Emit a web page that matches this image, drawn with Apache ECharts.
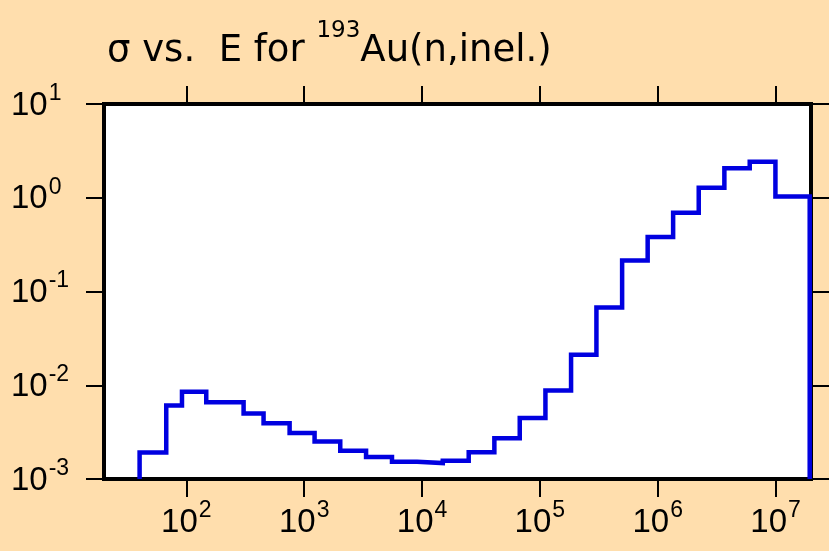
<!DOCTYPE html>
<html>
<head>
<meta charset="utf-8">
<script src="https://cdn.jsdelivr.net/npm/echarts@6/dist/echarts.min.js"></script>
<style>
html,body{margin:0;padding:0;background:#FFDEAD;}
#chart{width:829px;height:551px;}
</style>
</head>
<body>
<div id="chart"></div>
<script>
// Bin edges (eV) and cross sections (b)
const binEdges = [40.1, 67.5, 91.8, 147.5, 306, 452, 752, 1225, 2023, 3350, 5560, 9080, 15000, 24900, 41100, 67500, 111500, 184000, 302000, 499000, 822000, 1352000, 2230000, 3680000, 6040000, 9980000, 19500000];
const sigmaValues = [0.00192, 0.00607, 0.00851, 0.00660, 0.00499, 0.00394, 0.00310, 0.00251, 0.00200, 0.00172, 0.00153, 0.00148, 0.00157, 0.00193, 0.00272, 0.00446, 0.00877, 0.0211, 0.0675, 0.214, 0.381, 0.692, 1.28, 2.06, 2.42, 1.03];
const xTickValues = [1e2, 1e3, 1e4, 1e5, 1e6, 1e7];
const yTickValues = [1e-3, 1e-2, 1e-1, 1, 10];
const titleParts = ['σ vs.  E for ', '193', 'Au(n,inel.)'];

const yMin = 1e-3, yMax = 10, xMin = 20, xMax = 2e7;

const pts = [[binEdges[0], yMin]];
for (let i = 0; i < sigmaValues.length; i++) pts.push([binEdges[i], sigmaValues[i]]);
pts.push([binEdges[binEdges.length - 1], sigmaValues[sigmaValues.length - 1]]);
pts.push([binEdges[binEdges.length - 1], yMin]);

const FONT = '"Liberation Sans", Arial, sans-serif';
const TFONT = '"DejaVu Sans", sans-serif';
const rich = {
  b: {fontFamily: FONT, fontSize: 33, fontWeight: 'normal', lineHeight: 36, color: '#000', verticalAlign: 'bottom'},
  e: {fontFamily: FONT, fontSize: 23, fontWeight: 'normal', lineHeight: 23, color: '#000', verticalAlign: 'bottom', padding: [0, 0, 17, 1]}
};
function powLabel(v) {
  const e = Math.round(Math.log10(v));
  return '{b|10}{e|' + e + '}';
}
const tickStyle = {show: true, length: 18, inside: false, lineStyle: {color: '#000', width: 2}};

const chart = echarts.init(document.getElementById('chart'), null, {renderer: 'canvas'});
chart.setOption({
  backgroundColor: '#FFDEAD',
  animation: false,
  title: {
    text: '{a|' + titleParts[0] + '}{s|' + titleParts[1] + '}{a|' + titleParts[2] + '}',
    left: 107, top: 29, padding: 0,
    textStyle: {
      fontWeight: 'normal', fontSize: 37, fontFamily: TFONT,
      rich: {
        a: {fontFamily: TFONT, fontSize: 37, fontWeight: 'normal', lineHeight: 41, color: '#000', verticalAlign: 'bottom'},
        s: {fontFamily: TFONT, fontSize: 23, fontWeight: 'normal', lineHeight: 23, color: '#000', verticalAlign: 'bottom', padding: [0, 0, 27, 0]}
      }
    }
  },
  grid: {left: 104, right: 18, top: 104, bottom: 72, show: true, backgroundColor: '#fff', borderColor: '#000', borderWidth: 4},
  xAxis: [
    {type: 'log', logBase: 10, min: xMin, max: xMax, position: 'bottom',
     axisLine: {show: false}, splitLine: {show: false},
     axisTick: Object.assign({customValues: xTickValues}, tickStyle),
     axisLabel: {customValues: xTickValues, formatter: powLabel, rich: rich, margin: 24}},
    {type: 'log', logBase: 10, min: xMin, max: xMax, position: 'top',
     axisLine: {show: false}, splitLine: {show: false},
     axisTick: Object.assign({customValues: xTickValues}, tickStyle),
     axisLabel: {show: false}}
  ],
  yAxis: [
    {type: 'log', logBase: 10, min: yMin, max: yMax, position: 'left',
     axisLine: {show: false}, splitLine: {show: false},
     axisTick: Object.assign({customValues: yTickValues}, tickStyle),
     axisLabel: {customValues: yTickValues, formatter: powLabel, rich: rich, margin: 93, align: 'left'}},
    {type: 'log', logBase: 10, min: yMin, max: yMax, position: 'right',
     axisLine: {show: false}, splitLine: {show: false},
     axisTick: Object.assign({customValues: yTickValues}, tickStyle),
     axisLabel: {show: false}}
  ],
  series: [{
    type: 'line', step: 'end', data: pts, xAxisIndex: 0, yAxisIndex: 0,
    showSymbol: false, symbol: 'none', clip: false,
    lineStyle: {color: '#0000E0', width: 4.5, join: 'miter'}
  }]
});
</script>
</body>
</html>
